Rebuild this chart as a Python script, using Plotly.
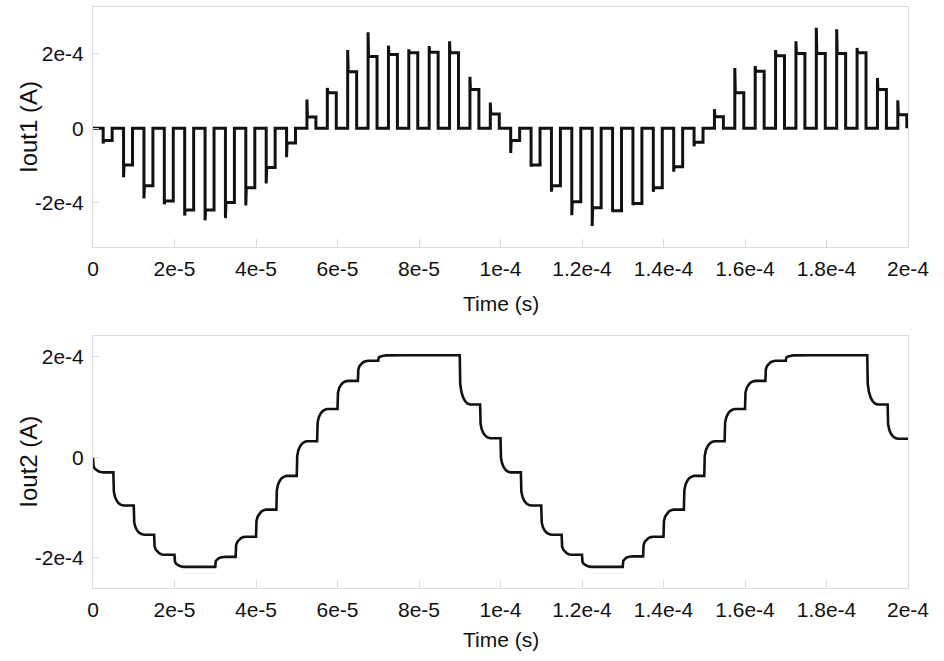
import plotly.graph_objects as go

# ---------------- data ----------------
# start of each 5 µs sample interval, in microseconds
STEP_US = [0, 5, 10, 15, 20, 25, 30, 35, 40, 45,
           50, 55, 60, 65, 70, 75, 80, 85, 90, 95,
           100, 105, 110, 115, 120, 125, 130, 135, 140, 145,
           150, 155, 160, 165, 170, 175, 180, 185, 190, 195]

# Iout1 pulse overshoot (spike) levels, units of 1e-4 A
IOUT1_SPIKE = [-0.41, -1.32, -1.89, -2.05, -2.35, -2.48, -2.42, -2.08, -1.49, -0.78,
               0.77, 1.08, 2.10, 2.58, 2.22, 2.12, 2.21, 2.34, 1.38, 0.69,
               -0.67, -1.03, -1.71, -2.34, -2.63, -2.25, -2.07, -1.71, -1.17, -0.49,
               0.51, 1.62, 1.67, 2.10, 2.34, 2.70, 2.66, 2.16, 1.35, 0.75]

# Iout1 pulse plateau levels, units of 1e-4 A
IOUT1_PLATEAU = [-0.335, -0.99, -1.55, -1.96, -2.20, -2.20, -2.00, -1.60, -1.06, -0.40,
                 0.30, 0.95, 1.52, 1.93, 1.98, 2.03, 2.04, 2.03, 1.04, 0.38,
                 -0.335, -0.99, -1.55, -1.98, -2.14, -2.22, -2.03, -1.60, -1.04, -0.38,
                 0.31, 0.95, 1.53, 1.95, 2.01, 2.01, 2.01, 2.03, 1.04, 0.36]

# Iout2 staircase levels per interval, units of 1e-4 A
IOUT2_LEVEL = [-0.30, -0.96, -1.54, -1.94, -2.18, -2.18, -1.98, -1.58, -1.04, -0.37,
               0.32, 0.96, 1.52, 1.92, 2.03, 2.03, 2.03, 2.03, 1.05, 0.38,
               -0.30, -0.96, -1.54, -1.94, -2.18, -2.18, -1.97, -1.58, -1.04, -0.37,
               0.32, 0.96, 1.52, 1.92, 2.03, 2.03, 2.03, 2.03, 1.05, 0.37]

X_TICKS = [0, 2e-5, 4e-5, 6e-5, 8e-5, 1e-4, 1.2e-4, 1.4e-4, 1.6e-4, 1.8e-4, 2e-4]
X_TICKTEXT = ["0", "2e-5", "4e-5", "6e-5", "8e-5", "1e-4", "1.2e-4", "1.4e-4",
              "1.6e-4", "1.8e-4", "2e-4"]
Y_TICKS = [-2e-4, 0, 2e-4]
Y_TICKTEXT = ["-2e-4", "0", "2e-4"]

# ---------------- waveform shape parameters (style) ----------------
PULSE_DELAY_US = 2.5
PULSE_WIDTH_US = 2.2
SPIKE_DECAY_US = 0.12
SETTLE_DT_US = [0.0, 0.12, 0.4, 0.8, 1.3, 1.9, 2.5]
SETTLE_FRAC = [0.0, 0.58, 0.74, 0.85, 0.93, 0.98, 1.0]
US = 1e-6
UA = 1e-4

# Iout1 trace
x1, y1 = [0.0], [0.0]
for t0, s, p in zip(STEP_US, IOUT1_SPIKE, IOUT1_PLATEAU):
    ts = t0 + PULSE_DELAY_US
    te = ts + PULSE_WIDTH_US
    x1 += [ts, ts, ts + SPIKE_DECAY_US, te, te]
    y1 += [0.0, s, p, p, 0.0]
x1 = [v * US for v in x1]
y1 = [v * UA for v in y1]

# Iout2 trace
x2, y2 = [0.0], [0.0]
prev = 0.0
for t0, lvl in zip(STEP_US, IOUT2_LEVEL):
    for dt, f in zip(SETTLE_DT_US, SETTLE_FRAC):
        x2.append(t0 + dt)
        y2.append(prev + f * (lvl - prev))
    prev = lvl
x2.append(200.0)
y2.append(prev)
x2 = [v * US for v in x2]
y2 = [v * UA for v in y2]

TICK_FONT = dict(family="Liberation Sans, Arial, sans-serif", size=21, color="#111111")
TITLE_FONT = dict(family="Liberation Sans, Arial, sans-serif", size=21, color="#111111")
YTITLE_FONT = dict(family="Liberation Sans, Arial, sans-serif", size=24, color="#111111")
FRAME = "#dcdcdc"

fig = go.Figure()
fig.add_trace(go.Scatter(x=x1, y=y1, mode="lines", xaxis="x", yaxis="y",
                         line=dict(color="#111111", width=3), showlegend=False,
                         hoverinfo="skip"))
fig.add_trace(go.Scatter(x=x2, y=y2, mode="lines", xaxis="x2", yaxis="y2",
                         line=dict(color="#111111", width=2.6), showlegend=False,
                         hoverinfo="skip"))

xcommon = dict(range=[0, 2e-4], tickvals=X_TICKS, ticktext=X_TICKTEXT,
               showgrid=False, zeroline=False, showline=True, linecolor=FRAME,
               linewidth=1, mirror=True, ticks="inside", ticklen=8, tickcolor=FRAME,
               tickfont=TICK_FONT, ticklabelstandoff=3)
ycommon = dict(tickvals=Y_TICKS, ticktext=Y_TICKTEXT, showgrid=False, zeroline=False,
               showline=True, linecolor=FRAME, linewidth=1, mirror=True,
               ticks="inside", ticklen=6, tickcolor=FRAME, tickfont=TICK_FONT,
               ticklabelstandoff=4)

fig.update_layout(
    width=944, height=661,
    margin=dict(l=93, r=36, t=7, b=73),
    paper_bgcolor="white", plot_bgcolor="white",
    xaxis=dict(domain=[0, 1], anchor="y", **xcommon),
    yaxis=dict(domain=[0.5874, 1.0], anchor="x", range=[-3.19e-4, 3.26e-4], **ycommon),
    xaxis2=dict(domain=[0, 1], anchor="y2", **xcommon),
    yaxis2=dict(domain=[0.0, 0.4343], anchor="x2", range=[-2.6e-4, 2.42e-4], **ycommon),
    annotations=[
        dict(text="Time (s)", xref="paper", yref="paper", x=0.5, y=0.4905,
             xanchor="center", yanchor="middle", showarrow=False, font=TITLE_FONT),
        dict(text="Time (s)", xref="paper", yref="paper", x=0.5, y=-0.0895,
             xanchor="center", yanchor="middle", showarrow=False, font=TITLE_FONT),
        dict(text="Iout1 (A)", xref="paper", yref="paper", x=-0.0785, y=0.7935,
             xanchor="center", yanchor="middle", textangle=-90, showarrow=False,
             font=YTITLE_FONT),
        dict(text="Iout2 (A)", xref="paper", yref="paper", x=-0.0785, y=0.2174,
             xanchor="center", yanchor="middle", textangle=-90, showarrow=False,
             font=YTITLE_FONT),
    ],
)

fig.write_html("out.html",
               config={"displayModeBar": False},
               post_script="document.body.style.margin='0';"
                           "document.body.style.overflow='hidden';")
